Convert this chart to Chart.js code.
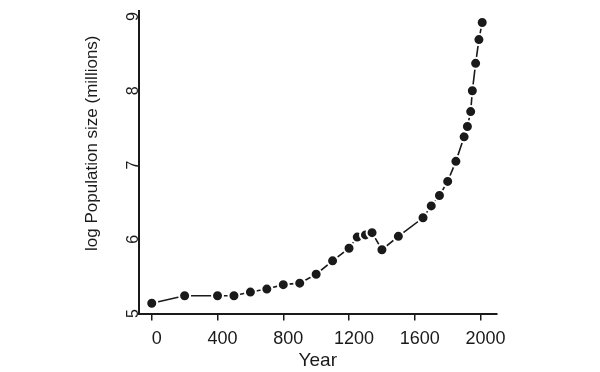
<!DOCTYPE html>
<html>
<head>
<meta charset="utf-8">
<script src="https://cdn.jsdelivr.net/npm/chart.js@4/dist/chart.umd.min.js"></script>
<style>
  html, body { margin: 0; padding: 0; background: #fff; }
  canvas { display: block; }
</style>
</head>
<body>
<canvas id="popChart" width="600" height="372"></canvas>
<script>
// data
var years = [0, 200, 400, 500, 600, 700, 800, 900, 1000, 1100, 1200, 1250, 1300, 1340, 1400, 1500,
             1650, 1700, 1750, 1800, 1850, 1900, 1920, 1940, 1950, 1970, 1990, 2010];
var logPop = [5.14, 5.24, 5.24, 5.24, 5.29, 5.33, 5.39, 5.41, 5.53, 5.71, 5.88, 6.03, 6.06, 6.09, 5.86, 6.04,
              6.29, 6.45, 6.59, 6.78, 7.05, 7.38, 7.52, 7.72, 8.00, 8.37, 8.69, 8.92];
var xTicks = [0, 400, 800, 1200, 1600, 2000];
var yTicks = [5, 6, 7, 8, 9];

var ink = '#1a1a1a';
var font = 'Liberation Sans, Arial, Helvetica, sans-serif';

var points = years.map(function (y, i) { return { x: y, y: logPop[i] }; });

var ctx = document.getElementById('popChart').getContext('2d');
var popChart = new Chart(ctx, {
    type: 'scatter',
    data: {
        datasets: [{
            data: points,
            showLine: true,
            borderColor: ink,
            borderWidth: 1.6,
            tension: 0,
            pointRadius: 5.5,
            pointBackgroundColor: ink,
            pointBorderColor: '#ffffff',
            pointBorderWidth: 2
        }]
    },
    options: {
        responsive: false,
        animation: false,
        layout: { padding: { left: 78, right: 103, top: 6, bottom: 0 } },
        plugins: { legend: { display: false }, tooltip: { enabled: false } },
        scales: {
            x: {
                type: 'linear',
                min: -80,
                max: 2100,
                afterBuildTicks: function (scale) {
                    scale.ticks = xTicks.map(function (v) { return { value: v }; });
                },
                grid: { drawOnChartArea: false, drawTicks: true, tickLength: 7, color: ink, lineWidth: 1.5 },
                border: { display: true, color: ink, width: 2 },
                ticks: {
                    color: ink, font: { family: font, size: 18 }, padding: 8, maxRotation: 0, labelOffset: 5,
                    callback: function (v) { return String(v); }
                },
                title: { display: true, text: 'Year', color: ink, font: { family: font, size: 19 }, padding: { top: -9, bottom: 0 } }
            },
            y: {
                min: 5,
                max: 9.08,
                afterBuildTicks: function (scale) {
                    scale.ticks = yTicks.map(function (v) { return { value: v }; });
                },
                grid: { display: false, drawTicks: false },
                border: { display: true, color: ink, width: 2 },
                ticks: { color: ink, font: { family: font, size: 16 }, padding: 1, minRotation: 90, maxRotation: 90, crossAlign: 'center' },
                title: {
                    display: true, text: '        log Population size (millions)', color: ink,
                    font: { family: font, size: 17 }, padding: { bottom: 15 }
                }
            }
        }
    }
});
</script>
</body>
</html>
